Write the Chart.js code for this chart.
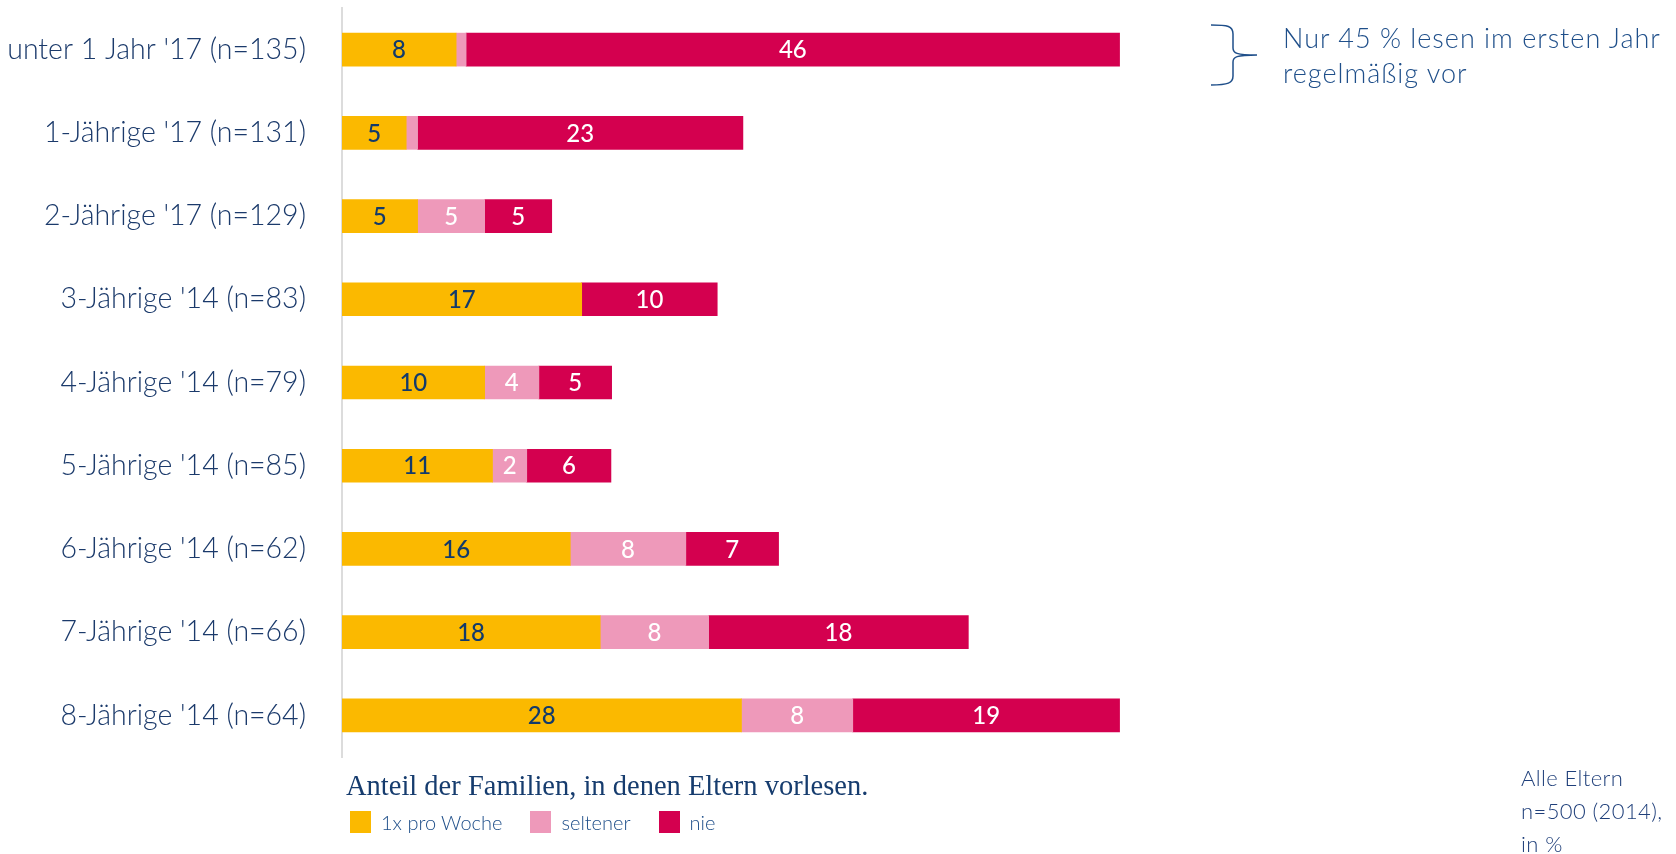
<!DOCTYPE html>
<html lang="de">
<head>
<meta charset="utf-8">
<title>Vorlesen</title>
<script src="https://cdn.jsdelivr.net/npm/chart.js@4.4.1/dist/chart.umd.min.js"></script>
<style>
    html, body { margin: 0; padding: 0; background: #fff; }
    body { width: 1676px; height: 854px; position: relative; overflow: hidden; font-family: Lato, sans-serif; }
    #chart { position: absolute; left: 0; top: 0; }
    .note { position: absolute; left: 1283px; top: 20px; font-size: 27px; letter-spacing: 1px; line-height: 35px; color: #1f4f8a; font-weight: 300; white-space: nowrap; }
    .brace { position: absolute; left: 0; top: 0; }
    .caption { position: absolute; left: 346px; top: 770px; font-family: 'Liberation Serif', serif; font-size: 28.5px; color: #163c6e; white-space: nowrap; }
    #legend { position: absolute; left: 350px; top: 810px; display: flex; gap: 28px; font-size: 20px; color: #1f4f8a; font-weight: 300; }
    #legend .item { display: flex; align-items: center; }
    #legend .box { width: 21px; height: 22px; margin-right: 10px; }
    .source { position: absolute; left: 1521px; top: 761px; font-size: 22px; letter-spacing: 0.4px; line-height: 33px; color: #1f3f7a; font-weight: 300; white-space: nowrap; }
</style>
</head>
<body>
<canvas id="chart" width="1676" height="854"></canvas>
<svg class="brace" width="1676" height="120">
    <path d="M1211,25 C1228,25 1233,26 1233,34 L1233,48 C1233,53 1236,55 1257,55 C1236,55 1233,57 1233,62 L1233,76 C1233,83 1228,85 1211,85"
          fill="none" stroke="#1f4f8a" stroke-width="1.5"/>
</svg>
<div class="note">Nur 45 % lesen im ersten Jahr<br>regelmäßig vor</div>
<div class="caption">Anteil der Familien, in denen Eltern vorlesen.</div>
<div id="legend"></div>
<div class="source">Alle Eltern<br>n=500 (2014),<br>in %</div>
<script>
const categories = [
    "unter 1 Jahr '17 (n=135)",
    "1-Jährige '17 (n=131)",
    "2-Jährige '17 (n=129)",
    "3-Jährige '14 (n=83)",
    "4-Jährige '14 (n=79)",
    "5-Jährige '14 (n=85)",
    "6-Jährige '14 (n=62)",
    "7-Jährige '14 (n=66)",
    "8-Jährige '14 (n=64)",
];
// Werte in %, aus den Balkenlängen geschätzt (Beschriftung gerundet)
const weekly = [8.0, 4.5, 5.3, 16.8, 10.0, 10.55, 16.0, 18.1, 28.0];
const rarely = [0.7, 0.8, 4.7, 0, 3.8, 2.4, 8.1, 7.6, 7.8];
const never = [45.8, 22.8, 4.7, 9.5, 5.1, 5.9, 6.5, 18.2, 18.7];
const seriesNames = ['1x pro Woche', 'seltener', 'nie'];
const seriesColors = ['#FBB900', '#EE99BA', '#D4004F'];

const NAVY = '#1b3a6b';

// Zahlen mittig in die Balken schreiben (kleine Werte weglassen)
const barLabels = {
    id: 'barLabels',
    afterDatasetsDraw(chart) {
        const c = chart.ctx;
        c.save();
        c.font = '500 24px Lato';
        c.textAlign = 'center';
        c.textBaseline = 'middle';
        chart.data.datasets.forEach((ds, i) => {
            chart.getDatasetMeta(i).data.forEach((bar, j) => {
                const v = ds.data[j];
                if (v < 1.5) return;
                c.fillStyle = i === 0 ? '#123a6b' : '#fff';
                c.fillText(String(Math.round(v)), (bar.x + bar.base) / 2, bar.y + 1);
            });
        });
        c.restore();
    },
};

const seriesData = [weekly, rarely, never];

new Chart(document.getElementById('chart'), {
    type: 'bar',
    data: {
        labels: categories,
        datasets: seriesNames.map((name, i) => ({
            label: name,
            data: seriesData[i],
            backgroundColor: seriesColors[i],
            borderWidth: 0,
            barThickness: 33,
        })),
    },
    options: {
        indexAxis: 'y',
        responsive: false,
        animation: false,
        layout: { padding: { top: 8, bottom: 97, right: 555, left: 0 } },
        scales: {
            x: { stacked: true, display: false, min: 0, max: 54.6 },
            y: {
                stacked: true,
                grid: { display: false, drawTicks: false },
                border: { display: true, color: '#dcdcdc', width: 2 },
                ticks: { color: NAVY, font: { family: 'Lato', size: 28.5, weight: '300' }, padding: 36 },
                afterFit(scale) {
                    scale.width = 342;
                    scale.paddingTop = 0;
                    scale.paddingBottom = 0;
                },
            },
        },
        plugins: {
            legend: { display: false },
            tooltip: { enabled: false },
        },
    },
    plugins: [barLabels],
});

const legendEl = document.getElementById('legend');
seriesNames.forEach((name, i) => {
    const item = document.createElement('div');
    item.className = 'item';
    item.innerHTML = '<span class="box" style="background:' + seriesColors[i] + '"></span><span>' + name + '</span>';
    legendEl.appendChild(item);
});
</script>
</body>
</html>
